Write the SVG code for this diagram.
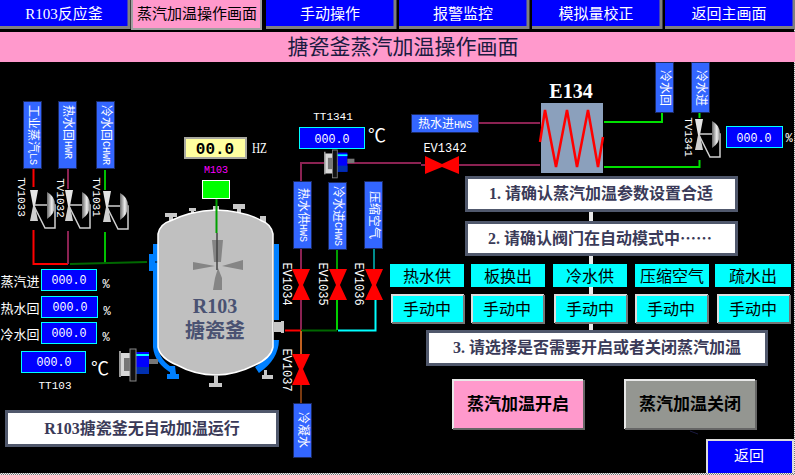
<svg xmlns="http://www.w3.org/2000/svg" width="795" height="475" viewBox="0 0 795 475">
<style>
text{font-family:"Liberation Serif","Noto Sans CJK SC",serif;text-anchor:middle}
.nav{fill:#0000ff}
.navt{fill:#fff;font-size:15px}
.tag{fill:#3366ff;stroke:#1c2a60;stroke-width:1}
.tagt{fill:#fff;font-size:12px;dominant-baseline:central}
.lat{font-size:10px;font-family:"Liberation Mono",monospace}
.m{font-family:"Liberation Mono",monospace;fill:#fff;font-size:12px}
.vl{dominant-baseline:central}
.s11{font-size:11px}
.val{fill:#0000ff;stroke:#00ffff;stroke-width:1}
.valt{fill:#fff;font-size:13px;font-family:"Liberation Mono",monospace}
.p{fill:none;stroke-width:2}
.step{fill:#fff;stroke:#50586c;stroke-width:3}
.stept{fill:#3a3a58;font-size:16px;font-weight:bold}
.cy{fill:#00ffff}
.cyt{fill:#000;font-size:16px}
.bv{fill:#ff0000}
.gr{fill:#c8c8c8}
.bl{fill:#0080ff}
.jk{fill:none;stroke:#0080ff}
.deg{fill:#fff;font-size:18px}
</style>
<defs>
<linearGradient id="dome" x1="0" x2="1" y1="0" y2="0"><stop offset="0" stop-color="#666"/><stop offset=".6" stop-color="#eee"/><stop offset="1" stop-color="#888"/></linearGradient>
<pattern id="dither" width="2" height="2" patternUnits="userSpaceOnUse"><rect width="2" height="2" fill="#777"/><rect width="1" height="1" fill="#eee"/><rect x="1" y="1" width="1" height="1" fill="#eee"/></pattern>
<g id="tv">
<polygon points="-4,-16 4,-16 1,0 -1,0" fill="#e4e4e4"/>
<polygon points="-1,0 1,0 4,15 -4,15" fill="#d0d0d0"/>
<path d="M0 -1H16M0 0L11 22H21V-1H17" fill="none" stroke="#d0d0d0" stroke-width="1.500"/>
<path d="M13 -14Q21 -10 21 -1Q21 8 13 13Z" fill="url(#dome)"/>
</g>
<g id="sensor">
<rect x="0" y="4" width="11" height="23" fill="#d8d8d8"/>
<rect x="0" y="2" width="2" height="26" fill="#999"/>
<rect x="5" y="9" width="7" height="13" fill="#777"/>
<rect x="17" y="3" width="13" height="22" fill="#0000ff"/>
<rect x="17" y="5" width="13" height="2" fill="#00ffff"/>
<rect x="17" y="18" width="13" height="7" fill="#0030b0"/>
<rect x="11" y="0" width="6" height="32" fill="#111" stroke="#888"/>
<rect x="30" y="10" width="9" height="5" fill="#777"/>
</g>
</defs>
<rect width="795" height="475" fill="#000"/>
<rect x="794" y="0" width="1" height="475" fill="url(#dither)"/>
<rect x="0" y="473" width="795" height="2" fill="url(#dither)"/>

<g id="nav">
<g id="nav-r103"><rect class="nav" x="0" y="0" width="128" height="27"/><path d="M0 27.500H129V0" fill="none" stroke="#808080" stroke-width="3"/><text class="navt" x="64" y="19">R103反应釜</text></g>
<g id="nav-steam"><rect x="132" y="0" width="129" height="28" fill="#ff99cc"/><path d="M132 0V29H261V0" fill="none" stroke="#a0a0a0" stroke-width="2"/><text x="197" y="19" font-size="15" fill="#000">蒸汽加温操作画面</text></g>
<g id="nav-manual"><rect class="nav" x="266" y="0" width="128" height="27"/><path d="M266 27.500H395V0" fill="none" stroke="#808080" stroke-width="3"/><text class="navt" x="330" y="19">手动操作</text></g>
<g id="nav-alarm"><rect class="nav" x="399" y="0" width="128" height="27"/><path d="M399 27.500H528V0" fill="none" stroke="#808080" stroke-width="3"/><text class="navt" x="463" y="19">报警监控</text></g>
<g id="nav-analog"><rect class="nav" x="532" y="0" width="128" height="27"/><path d="M532 27.500H661V0" fill="none" stroke="#808080" stroke-width="3"/><text class="navt" x="596" y="19">模拟量校正</text></g>
<g id="nav-main"><rect class="nav" x="665" y="0" width="128" height="27"/><path d="M665 27.500H794V0" fill="none" stroke="#808080" stroke-width="3"/><text class="navt" x="729" y="19">返回主画面</text></g>
</g>
<g id="title"><rect x="0" y="32" width="795" height="30" fill="#ff99cc"/><text x="403" y="54" font-size="21" fill="#1a1a40">搪瓷釜蒸汽加温操作画面</text></g>

<g id="connectors">
<path class="p" stroke="#ff0000" d="M33.500 169V187M33.500 230V264H68"/>
<path class="p" stroke="#8b2252" d="M68 169V189M68 231V264"/>
<path class="p" stroke="#00c000" d="M105 170V190M105 232V263"/>
<path class="p" stroke="#006800" d="M70 264L147 262"/>
<path class="p" stroke="#8b2252" d="M301 181V163H421M479 123H540M421 165H540M301 248V269M301 300V330"/>
<path class="p" stroke="#00a000" d="M337 249V269"/>
<path class="p" stroke="#008c8c" d="M374 248V269"/>
<path class="p" stroke="#ff0000" d="M285 330.500H301"/>
<path class="p" stroke="#006800" d="M301 330.500H337"/>
<path class="p" stroke="#00d000" d="M337 300V330"/>
<path class="p" stroke="#00ffff" d="M338 330.500H375.500V300"/>
<path class="p" stroke="#c06020" d="M301 331V354"/>
<path class="p" stroke="#7a3a10" d="M301 385V403"/>
<path class="p" stroke="#00e000" d="M604 122H662V113M699.500 113V118M699.500 160V167H604"/>
<rect x="589" y="211" width="4" height="120" fill="#e8e8e8"/>
<path d="M690 431L698 434" stroke="#1a1a40" stroke-width="1"/>
</g>

<g id="tag-ls"><rect class="tag" x="23.500" y="101.500" width="18" height="67"/><text class="tagt" transform="translate(32.500 135) rotate(90)">工业蒸汽<tspan class="lat">LS</tspan></text></g>
<g id="tag-hwr"><rect class="tag" x="58.500" y="101.500" width="18" height="67"/><text class="tagt" transform="translate(67.500 132) rotate(90)">热水回<tspan class="lat">HWR</tspan></text></g>
<g id="tag-chwr"><rect class="tag" x="96.500" y="101.500" width="18" height="67"/><text class="tagt" transform="translate(105.500 135) rotate(90)">冷水回<tspan class="lat">CHWR</tspan></text></g>

<g id="tv1033"><use href="#tv" x="34" y="206"/><text class="m s11 vl" transform="translate(21 197) rotate(90)">TV1033</text></g>
<g id="tv1032"><use href="#tv" x="69" y="206"/><text class="m s11 vl" transform="translate(60 198) rotate(90)">TV1032</text></g>
<g id="tv1031"><use href="#tv" x="107" y="207"/><text class="m s11 vl" transform="translate(96 197) rotate(90)">TV1031</text></g>

<g id="r103">
<path class="jk" stroke-width="5" d="M155.500 244V347Q157 362 173 371"/>
<path class="jk" stroke-width="5" d="M276.500 244V320"/>
<path class="jk" stroke-width="7" d="M275.500 340Q275 358 257 370"/>
<rect class="bl" x="149" y="254" width="6" height="17"/>
<path d="M155 262H160" stroke="#000"/>
<rect class="gr" x="274" y="322" width="8" height="10"/><rect class="gr" x="281" y="321" width="3" height="12"/>
<path class="gr" d="M165 213H177V217H173V226H169V217H165ZM189 208H196V211H194V215H191V211H189ZM213 206H219V214H213ZM233 204H245V209H241V214H237V209H233ZM260 216H266V226H260Z"/>
<path d="M158 347V234Q160 224 170 221Q190 211 216 210Q245 211 262 221Q271 224 273 234V347Q271 358 255 365Q235 375 216 375Q195 375 177 365Q160 358 158 347Z" fill="#c0c0c0" stroke="#fff" stroke-width="1.500"/>
<path class="bl" d="M170 366H175L176 374H179V379H167V374H170Z"/>
<path class="gr" d="M214 375H218V383H222V387H209V383H214ZM264 370H267V375H273V379H262V375H264Z"/>
<path d="M212 240H223L221 262H214ZM193 262L215 266L193 270ZM243 260V270L222 266ZM213 290H222V278L218 268L215 278Z" fill="#858585"/>
<path d="M216.500 198V233" stroke="#00a000" stroke-width="2"/>
<path d="M217 233V270" stroke="#444" stroke-width="1.500"/>
<text x="215" y="313" font-size="20" font-weight="bold" fill="#4a5272">R103</text>
<text x="215" y="338" font-size="20" font-weight="bold" fill="#4a5272">搪瓷釜</text>
</g>

<g id="hz"><rect x="185" y="138" width="61" height="20" fill="#ffffa0" stroke="#a8a8a0" stroke-width="2"/><text x="215" y="154" font-size="16" font-weight="bold" style="font-family:'Liberation Mono',monospace" fill="#000">00.0</text><text x="259.500" y="153" font-size="15" fill="#fff" textLength="15" lengthAdjust="spacingAndGlyphs">HZ</text></g>
<g id="m103"><text class="m" x="216" y="173" style="font-size:10px;fill:#ff00ff">M103</text><rect x="202.500" y="180.500" width="27" height="18" fill="#00ff00" stroke="#fff"/></g>

<g id="in-steam"><text x="20" y="286" font-size="13" fill="#fff">蒸汽进</text><rect class="val" x="41.500" y="269.500" width="55" height="21"/><text class="valt" x="69" y="284" textLength="35" lengthAdjust="spacingAndGlyphs">000.0</text><text class="m" x="106" y="288">%</text></g>
<g id="in-hot"><text x="20" y="313" font-size="13" fill="#fff">热水回</text><rect class="val" x="41.500" y="296.500" width="56" height="21"/><text class="valt" x="70" y="311" textLength="35" lengthAdjust="spacingAndGlyphs">000.0</text><text class="m" x="107" y="315">%</text></g>
<g id="in-cold"><text x="20" y="339" font-size="13" fill="#fff">冷水回</text><rect class="val" x="41.500" y="322.500" width="55" height="21"/><text class="valt" x="69" y="337" textLength="35" lengthAdjust="spacingAndGlyphs">000.0</text><text class="m" x="106" y="341">%</text></g>

<g id="tt103"><rect class="val" x="21.500" y="351.500" width="64" height="21"/><text class="valt" x="54" y="366" textLength="35" lengthAdjust="spacingAndGlyphs">000.0</text><text class="deg" x="100" y="375">℃</text><text class="m s11" x="55" y="389">TT103</text><use href="#sensor" x="119" y="349"/></g>

<g id="status"><rect class="step" x="6.500" y="411.500" width="271" height="34"/><text x="142" y="434" font-size="16" font-weight="bold" fill="#3a3a58">R103搪瓷釜无自动加温运行</text></g>

<g id="tt1341"><text class="m s11" x="333" y="120">TT1341</text><rect class="val" x="299.500" y="127.500" width="65" height="21"/><text class="valt" x="332" y="143" textLength="35" lengthAdjust="spacingAndGlyphs">000.0</text><text class="deg" x="377" y="142">℃</text><use href="#sensor" transform="translate(324 150) scale(.78 .87)"/></g>

<g id="tag-hws"><rect class="tag" x="293.500" y="181.500" width="18" height="67"/><text class="tagt" transform="translate(302.500 215) rotate(90)">热水供<tspan class="lat">HWS</tspan></text></g>
<g id="tag-chws"><rect class="tag" x="328.500" y="182.500" width="18" height="67"/><text class="tagt" transform="translate(337.500 216) rotate(90)">冷水进<tspan class="lat">CHWS</tspan></text></g>
<g id="tag-air"><rect class="tag" x="364.500" y="181.500" width="18" height="67"/><text class="tagt" transform="translate(373.500 215) rotate(90)">压缩空气</text></g>
<g id="tag-cond"><rect class="tag" x="293.500" y="403.500" width="18" height="54"/><text class="tagt" transform="translate(302.500 430) rotate(90)">冷凝水</text></g>

<g id="ev1034"><polygon class="bv" points="292,269 310,269 303,285 310,300 292,300 299,285"/><text class="m vl" transform="translate(286 284) rotate(90)">EV1034</text></g>
<g id="ev1035"><polygon class="bv" points="329,269 347,269 340,285 347,300 329,300 336,285"/><text class="m vl" transform="translate(322 284) rotate(90)">EV1035</text></g>
<g id="ev1036"><polygon class="bv" points="365,269 383,269 376,285 383,300 365,300 372,285"/><text class="m vl" transform="translate(358 284) rotate(90)">EV1036</text></g>
<g id="ev1037"><polygon class="bv" points="292,354 310,354 303,369 310,385 292,385 299,369"/><text class="m vl" transform="translate(286 370) rotate(90)">EV1037</text></g>
<g id="ev1342"><polygon class="bv" points="425,156 442,164 459,156 459,174 442,167 425,174"/><text class="m" x="445" y="152">EV1342</text></g>

<g id="tag-hws-in"><rect class="tag" x="411.500" y="114.500" width="67" height="18"/><text x="445" y="128" font-size="12" fill="#fff">热水进<tspan class="lat">HWS</tspan></text></g>
<g id="e134"><text x="571" y="98" font-size="20" font-weight="bold" fill="#fff">E134</text><rect x="541" y="103" width="62" height="70" fill="#8ba0bc"/><polyline points="540,142 545,110 556,167 567,110 577,167 588,110 598,167 603,137" fill="none" stroke="#ff0000" stroke-width="2.500"/></g>
<g id="tag-cwr2"><rect class="tag" x="655.500" y="62.500" width="18" height="50"/><text class="tagt" transform="translate(664.500 88) rotate(90)">冷水回</text></g>
<g id="tag-cws2"><rect class="tag" x="691.500" y="62.500" width="18" height="50"/><text class="tagt" transform="translate(700.500 88) rotate(90)">冷水进</text></g>
<g id="tv1341"><use href="#tv" x="699" y="135"/><text class="m s11 vl" transform="translate(688 137) rotate(90)">TV1341</text><rect class="val" x="726.500" y="126.500" width="56" height="21"/><text class="valt" x="754" y="142" textLength="35" lengthAdjust="spacingAndGlyphs">000.0</text><text class="m" x="789" y="142">%</text></g>

<g id="step1"><rect class="step" x="466.500" y="177.500" width="270" height="33"/><text class="stept" x="601" y="199">1. 请确认蒸汽加温参数设置合适</text></g>
<g id="step2"><rect class="step" x="466.500" y="222.500" width="270" height="32"/><text class="stept" x="600" y="244">2. 请确认阀门在自动模式中<tspan style="font-family:'Noto Sans CJK SC',sans-serif">……</tspan></text></g>
<g id="step3"><rect class="step" x="427.500" y="331.500" width="339" height="33"/><text class="stept" x="597" y="353">3. 请选择是否需要开启或者关闭蒸汽加温</text></g>

<g id="st-hot"><rect class="cy" x="390" y="264" width="74" height="23"/><text class="cyt" x="427" y="282">热水供</text></g>
<g id="st-plate"><rect class="cy" x="471" y="264" width="74" height="23"/><text class="cyt" x="508" y="282">板换出</text></g>
<g id="st-cold"><rect class="cy" x="553" y="264" width="74" height="23"/><text class="cyt" x="590" y="282">冷水供</text></g>
<g id="st-air"><rect class="cy" x="635" y="264" width="74" height="23"/><text class="cyt" x="672" y="282">压缩空气</text></g>
<g id="st-drain"><rect class="cy" x="715" y="264" width="76" height="23"/><text class="cyt" x="753" y="282">疏水出</text></g>

<g id="btn1"><rect class="cy" x="392" y="295" width="72" height="28"/><path d="M392 323V295H464" fill="none" stroke="#ddd" stroke-width="2"/><path d="M392 323H464V295" fill="none" stroke="#777" stroke-width="2"/><text class="cyt" x="427" y="315">手动中</text></g>
<g id="btn2"><rect class="cy" x="472" y="295" width="72" height="28"/><path d="M472 323V295H544" fill="none" stroke="#ddd" stroke-width="2"/><path d="M472 323H544V295" fill="none" stroke="#777" stroke-width="2"/><text class="cyt" x="507" y="315">手动中</text></g>
<g id="btn3"><rect class="cy" x="555" y="295" width="72" height="28"/><path d="M555 323V295H627" fill="none" stroke="#ddd" stroke-width="2"/><path d="M555 323H627V295" fill="none" stroke="#777" stroke-width="2"/><text class="cyt" x="590" y="315">手动中</text></g>
<g id="btn4"><rect class="cy" x="636" y="295" width="72" height="28"/><path d="M636 323V295H708" fill="none" stroke="#ddd" stroke-width="2"/><path d="M636 323H708V295" fill="none" stroke="#777" stroke-width="2"/><text class="cyt" x="671" y="315">手动中</text></g>
<g id="btn5"><rect class="cy" x="718" y="295" width="72" height="28"/><path d="M718 323V295H790" fill="none" stroke="#ddd" stroke-width="2"/><path d="M718 323H790V295" fill="none" stroke="#777" stroke-width="2"/><text class="cyt" x="753" y="315">手动中</text></g>

<g id="btn-on"><rect x="453" y="380" width="130" height="48" fill="#ff99cc"/><path d="M453 429V380H583" fill="none" stroke="#e8e8e8" stroke-width="2"/><path d="M453 429H584V380" fill="none" stroke="#666" stroke-width="2"/><text x="518" y="410" font-size="17" font-weight="bold" fill="#000">蒸汽加温开启</text></g>
<g id="btn-off"><rect x="625" y="380" width="130" height="48" fill="#949691"/><path d="M625 429V380H755" fill="none" stroke="#e8e8e8" stroke-width="2"/><path d="M625 429H756V380" fill="none" stroke="#666" stroke-width="2"/><text x="690" y="410" font-size="17" font-weight="bold" fill="#000">蒸汽加温关闭</text></g>
<g id="btn-back"><rect x="707" y="440" width="85" height="33" fill="#0000ff"/><path d="M707 473V440H793V473" fill="none" stroke="#ddd" stroke-width="2"/><text x="749" y="461" font-size="15" fill="#fff">返回</text></g>
</svg>
